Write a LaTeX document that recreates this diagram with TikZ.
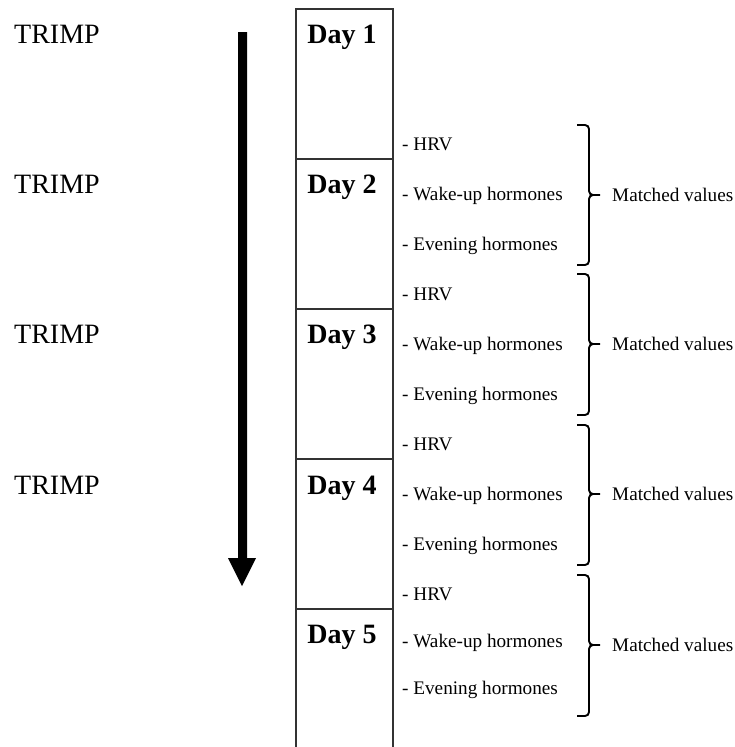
\documentclass[tikz,border=0pt]{standalone}
\usepackage{fontspec}
\setmainfont{Liberation Serif}
\begin{document}
\begin{tikzpicture}[x=1pt,y=-1pt,
  trimp/.style={anchor=base west,inner sep=0pt,font=\fontsize{28}{32}\selectfont},
  daylbl/.style={anchor=base,inner sep=0pt,font=\fontsize{28}{32}\selectfont\bfseries},
  item/.style={anchor=base west,inner sep=0pt,font=\fontsize{19.2}{22}\selectfont},
  matched/.style={anchor=base west,inner sep=0pt,font=\fontsize{19.2}{22}\selectfont},
  colline/.style={draw=black!80,line width=1.4pt},
  bracestyle/.style={draw=black,line width=1.9pt,line cap=butt}]
\useasboundingbox (0,0) rectangle (735,747);
\fill[white] (0,0) rectangle (735,747);
% column
\coordinate (cTL) at (296,9);
\coordinate (cTR) at (393,9);
\coordinate (cBL) at (296,747);
\coordinate (cBR) at (393,747);
\draw[colline] (cBL) -- (cTL) -- (cTR) -- (cBR);
\foreach \yy in {159,309,459,609}{
  \draw[colline] (296,\yy) -- (393,\yy);
}
% day labels and TRIMP
\node[daylbl] (d1) at (342,43) {Day 1};
\node[daylbl] (d2) at (342,193) {Day 2};
\node[daylbl] (d3) at (342,343) {Day 3};
\node[daylbl] (d4) at (342,494) {Day 4};
\node[daylbl] (d5) at (342,643) {Day 5};
\node[trimp] (t1) at (14,43) {TRIMP};
\node[trimp] (t2) at (14,193) {TRIMP};
\node[trimp] (t3) at (14,343) {TRIMP};
\node[trimp] (t4) at (14,494) {TRIMP};
% arrow
\fill[black] (238,32) -- (247,32) -- (247,558) -- (256,558) -- (242,586) -- (228,558) -- (238,558) -- cycle;
% groups
\foreach \i/\h/\w/\e/\top/\mid/\bot in {1/150/200/250/125/195/265, 2/300/350/400/274/344/415, 3/450/500/550/425/494/565, 4/600/647/694/575/645/716}{
  \node[item] (hrv\i) at (402,\h) {- HRV};
  \node[item] (wake\i) at (402,\w) {- Wake-up hormones};
  \node[item] (eve\i) at (402,\e) {- Evening hormones};
  \draw[bracestyle] (577,\top) -- (585,\top) to[out=0,in=90] (589,\top+4) -- (589,\mid-4) to[out=-90,in=180] (593,\mid) -- (600,\mid);
  \draw[bracestyle] (577,\bot) -- (585,\bot) to[out=0,in=-90] (589,\bot-4) -- (589,\mid+4) to[out=90,in=180] (593,\mid);
  \node[matched] (mv\i) at (612,\mid+6) {Matched values};
}
\end{tikzpicture}
\end{document}
